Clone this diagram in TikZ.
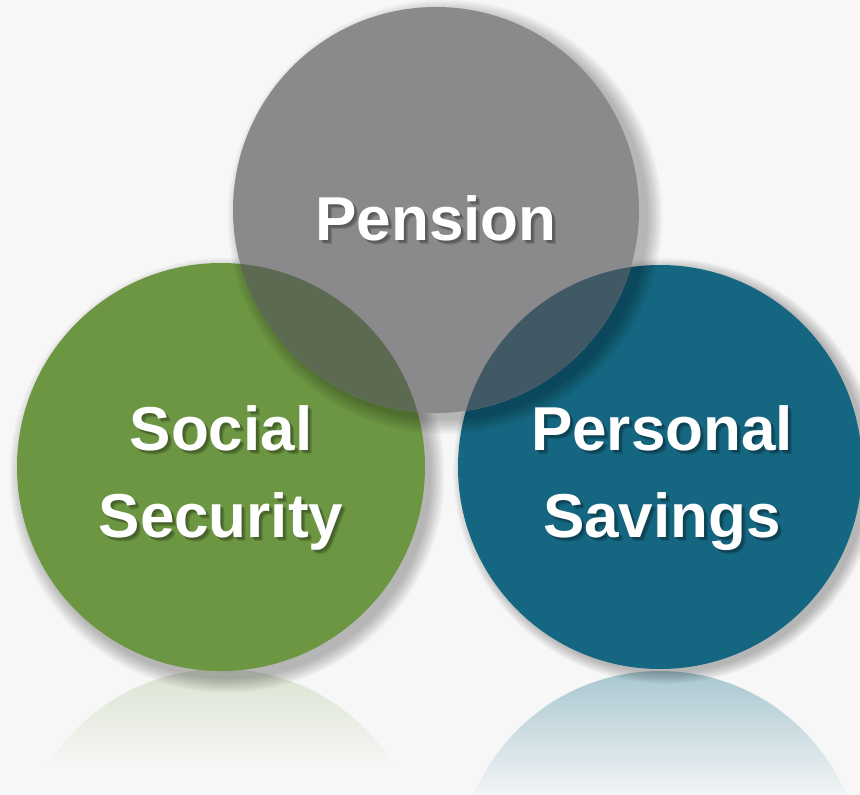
\documentclass[tikz,border=0pt]{standalone}
\usepackage{fontspec}
\setmainfont{Liberation Sans}
\definecolor{bgc}{HTML}{F7F7F7}
\definecolor{pens}{HTML}{8A8A8C}
\definecolor{grn}{HTML}{6C9642}
\definecolor{blu}{HTML}{156680}
\definecolor{lensG}{HTML}{5D6A52}
\definecolor{lensB}{HTML}{405965}
\definecolor{grefTop}{HTML}{DCE4D2}
\definecolor{brefTop}{HTML}{A8C7D0}
\definecolor{brefBot}{HTML}{F2F4F5}
\begin{document}
\begin{tikzpicture}[x=1pt,y=-1pt,
  lbl/.style={text=white,font=\bfseries\fontsize{62}{70}\selectfont,inner sep=0pt,anchor=base},
  lblsh/.style={lbl,text=black,opacity=0.13},
  softshadow/.style={black,opacity=0.028}]
\useasboundingbox (0,0) rectangle (860,795);
\fill[bgc] (0,0) rectangle (860,795);
% reflections
\begin{scope}
  \clip (221,873) circle (204);
  \shade[top color=grefTop,bottom color=bgc] (0,670) rectangle (440,770);
\end{scope}
\begin{scope}
  \clip (660,873) circle (202);
  \shade[top color=brefTop,bottom color=brefBot] (440,670) rectangle (860,795);
\end{scope}
% soft shadows of lower circles
\foreach \k in {1,...,10} {
  \fill[softshadow] (227,475) circle ({204+15-1.5*\k});
  \fill[softshadow] (666,471) circle ({202+12-1.2*\k});
}
\fill[grn] (221,467) circle (204);
\fill[blu] (660,467) circle (202);
% shadow of pension circle
\foreach \k in {1,...,10} {
  \fill[softshadow] (445,217) circle ({203+16-1.6*\k});
}
\fill[pens] (436,210) circle (203);
% overlaps
\begin{scope}
  \clip (221,467) circle (204);
  \fill[lensG] (436,210) circle (203);
\end{scope}
\begin{scope}
  \clip (660,467) circle (202);
  \fill[lensB] (436,210) circle (203);
\end{scope}
% label shadows
\foreach \d in {2,3,4} {
  \node[lblsh] at (436+\d,240+\d) {Pension};
  \node[lblsh] at (221+\d,450+\d) {Social};
  \node[lblsh] at (221+\d,537+\d) {Security};
  \node[lblsh] at (662+\d,450+\d) {Personal};
  \node[lblsh] at (662+\d,537+\d) {Savings};
}
% labels
\node[lbl] (pension) at (436,240) {Pension};
\node[lbl] (social) at (221,450) {Social};
\node[lbl] (security) at (221,537) {Security};
\node[lbl] (personal) at (662,450) {Personal};
\node[lbl] (savings) at (662,537) {Savings};
\end{tikzpicture}
\end{document}
